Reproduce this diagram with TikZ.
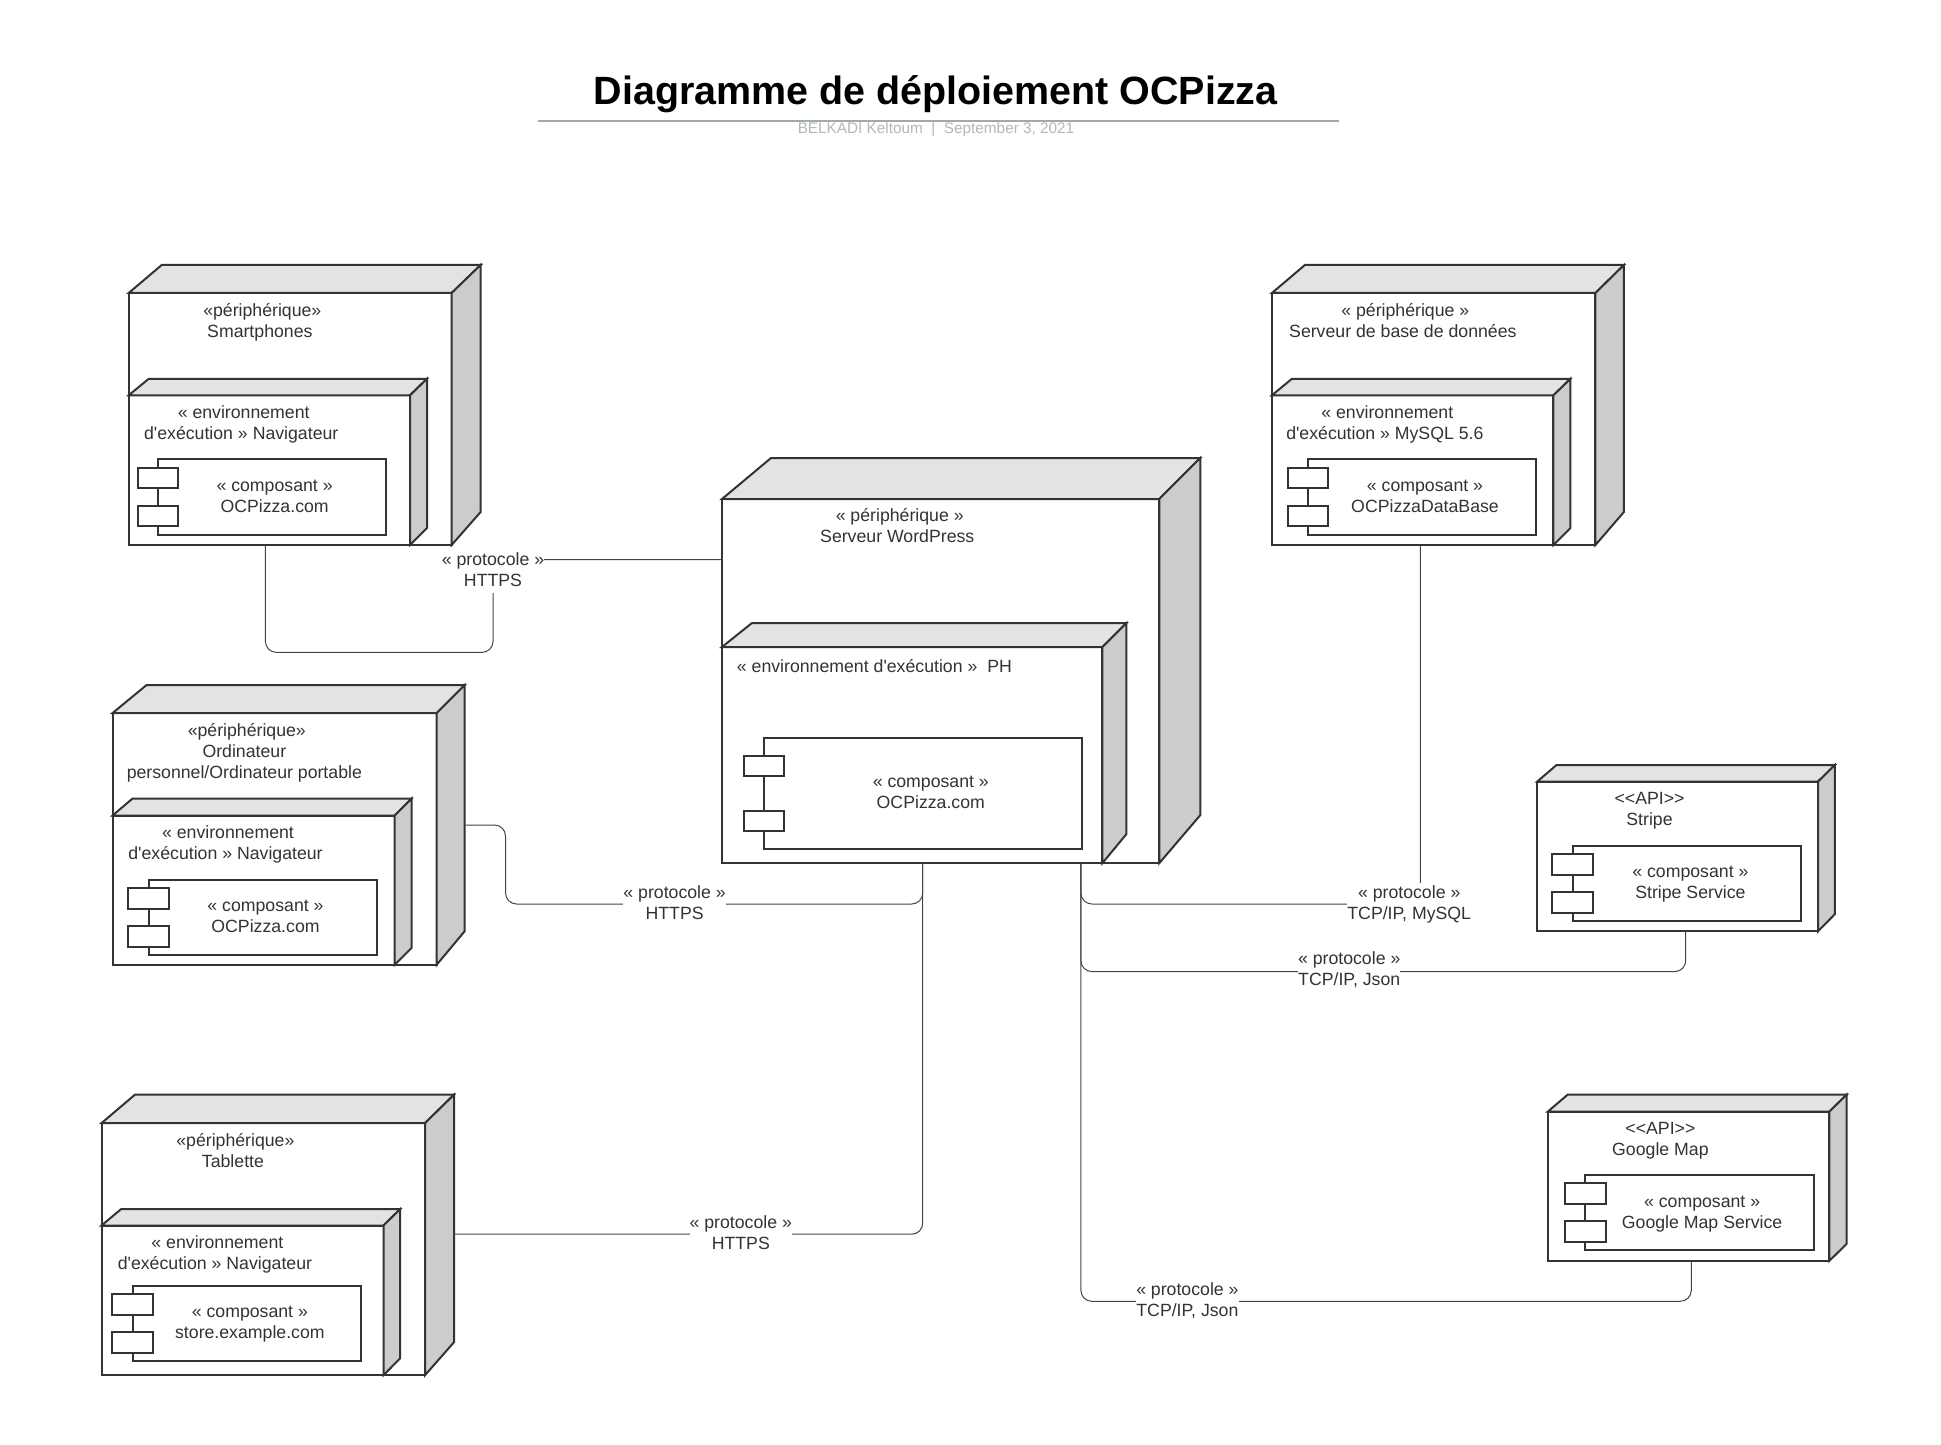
\documentclass[tikz,border=0pt]{standalone}
\usepackage{fontspec}
\usetikzlibrary{calc}
\newfontfamily\diagfont{Liberation Sans}
\definecolor{trait}{HTML}{333333}
\definecolor{fil}{HTML}{444444}
\definecolor{dessus}{HTML}{E3E3E3}
\definecolor{cote}{HTML}{CCCCCC}
\definecolor{filet}{HTML}{A3A8AB}
\definecolor{sous}{HTML}{AEB8BD}
% depth of a box: node, top left dx, right dx, top dy, bottom dy
\newcommand{\extrude}[5]{
\draw[face, fill=dessus] (#1.north west)--++(#2,-#4)--($(#1.north east)+(#3,-#4)$)--(#1.north east)--cycle;
\draw[face, fill=cote] (#1.north east)--++(#3,-#4)--($(#1.south east)+(#3,-#5)$)--(#1.south east)--cycle;
}
% the two small tabs of a component
\newcommand{\comptabs}[3]{
\node[tabbox] (#1a) at ([shift={(-20.3,#2)}]#1.north west) {};
\node[tabbox] (#1b) at ([shift={(-20.3,#3)}]#1.north west) {};
}
\newcommand{\lignes}[2]{\strut #1\\\strut #2}
% second line ends on a space
\newcommand{\vide}{\rule{2.46pt}{0pt}}
\newcommand{\lignesb}[2]{\strut #1\\\strut #2\vide}

\begin{document}
\begin{tikzpicture}[x=.5pt, y=-.5pt,
face/.style={draw=trait, line width=1pt, line join=miter},
box/.style 2 args={draw=trait, line width=1pt, fill=white, inner sep=0, outer sep=0, anchor=north west, minimum width=#1*.5pt, minimum height=#2*.5pt},
tabbox/.style={box={40.6}{20.3}},
compbox/.style={box={228.3}{75.4}},
texte/.style={align=center, inner sep=0, yshift=-1.25pt, text=trait, font=\diagfont\fontsize{8.85}{10.55}\selectfont},
proto/.style={texte, fill=white},
link/.style={draw=fil, line width=.5pt, rounded corners=5.5pt}]

\useasboundingbox (0,0) rectangle (1941,1444);

% TITLE
\node[inner sep=0] (titre) at (935.7,94.5) {\diagfont\fontsize{19.72}{22}\selectfont\bfseries Diagramme de déploiement OCPizza};
\coordinate (filetA) at (538.2,121.2);
\coordinate (filetB) at (1338.7,121.2);
\draw[filet, line width=1pt] (filetA)--(filetB);
\node[inner sep=0, text=sous] (auteur) at (936,129.6) {\diagfont\fontsize{7.66}{9}\selectfont BELKADI Keltoum~~|~~September 3, 2021};

%%%%%%%%% SMARTPHONES %%%%%%%%%%%%%
\node[box={322.9}{252}] (smart) at (128.7,293) {};
\extrude{smart}{33}{29}{28}{33}
\node[texte] (smarttxt) at (262.3,320.3) {\lignesb{«périphérique»}{Smartphones}};
\node[box={281.3}{149.7}] (smartenv) at (128.7,395.3) {};
\extrude{smartenv}{20}{17}{16.5}{17}
\node[texte] (smartenvtxt) at (243.7,422.4) {\lignesb{« environnement}{d'exécution » Navigateur}};
\node[compbox] (smartcomp) at (157.9,459.3) {};
\comptabs{smartcomp}{8.7}{46.7}
\node[texte] (smartcomptxt) at (274.6,495) {\lignes{« composant »}{OCPizza.com}};

%%%%%%%%% SERVEUR DE BASE DE DONNEES %%%%%%%%%%%%%
\node[box={323.5}{252}] (base) at (1271.9,293) {};
\extrude{base}{33}{28.5}{28}{33}
\node[texte] (basetxt) at (1405.3,320.3) {\lignesb{« périphérique »}{Serveur de base de données}};
\node[box={281.5}{149.7}] (baseenv) at (1271.9,395.3) {};
\extrude{baseenv}{20}{17}{16.5}{17}
\node[texte] (baseenvtxt) at (1387.3,422.4) {\lignesb{« environnement}{d'exécution » MySQL 5.6}};
\node[compbox] (basecomp) at (1307.8,459.3) {};
\comptabs{basecomp}{8.7}{46.7}
\node[texte] (basecomptxt) at (1425,495) {\lignes{« composant »}{OCPizzaDataBase}};

%%%%%%%%% SERVEUR WORDPRESS %%%%%%%%%%%%%
\node[box={437.3}{364.1}] (wordpress) at (722,499) {};
\extrude{wordpress}{49}{41}{41}{48}
\node[texte] (wordpresstxt) at (899.7,525.5) {\lignesb{« périphérique »}{Serveur WordPress}};
\node[box={380.4}{216.1}] (wordpressenv) at (722,647) {};
\extrude{wordpressenv}{30}{24}{24}{29}
\node[texte] (wordpressenvtxt) at (874.4,666) {\strut « environnement d'exécution »~~PH};
\node[box={318.3}{111}] (wordpresscomp) at (764,738) {};
\comptabs{wordpresscomp}{17.7}{72.7}
\node[texte] (wordpresscomptxt) at (930.8,791.5) {\lignes{« composant »}{OCPizza.com}};

%%%%%%%%% ORDINATEUR %%%%%%%%%%%%%
\node[box={324.1}{251.7}] (ordi) at (112.6,713) {};
\extrude{ordi}{34}{28}{28}{33.5}
\node[texte] (orditxt) at (246.8,750.5) {\strut «périphérique»\\\strut Ordinateur\vide\\\strut personnel/Ordinateur portable\vide};
\node[box={282.1}{149.2}] (ordienv) at (112.6,815.5) {};
\extrude{ordienv}{20}{17}{17}{17}
\node[texte] (ordienvtxt) at (228,842.5) {\lignesb{« environnement}{d'exécution » Navigateur}};
\node[compbox] (ordicomp) at (148.6,879.5) {};
\comptabs{ordicomp}{8.7}{46.7}
\node[texte] (ordicomptxt) at (265.5,915.2) {\lignes{« composant »}{OCPizza.com}};

%%%%%%%%% TABLETTE %%%%%%%%%%%%%
\node[box={323.5}{252.1}] (tablette) at (101.5,1123.1) {};
\extrude{tablette}{33.4}{29}{28.4}{33}
\node[texte] (tablettetxt) at (235.4,1150.2) {\lignesb{«périphérique»}{Tablette}};
\node[box={282}{149.7}] (tabletteenv) at (101.5,1225.5) {};
\extrude{tabletteenv}{19.7}{16.7}{16.5}{17}
\node[texte] (tabletteenvtxt) at (217.4,1252.1) {\lignesb{« environnement}{d'exécution » Navigateur}};
\node[compbox] (tablettecomp) at (132.6,1285.7) {};
\comptabs{tablettecomp}{8.7}{46.7}
\node[texte] (tablettecomptxt) at (249.9,1321) {\lignes{« composant »}{store.example.com}};

%%%%%%%%% STRIPE %%%%%%%%%%%%%
\node[box={280.8}{149.7}] (stripe) at (1537.3,781.5) {};
\extrude{stripe}{19.2}{16.7}{16.5}{17}
\node[texte] (stripetxt) at (1649.5,808.6) {\lignes{<<API>>}{Stripe}};
\node[compbox] (stripecomp) at (1572.7,845.6) {};
\comptabs{stripecomp}{8.7}{46.7}
\node[texte] (stripecomptxt) at (1690.4,881.1) {\lignes{« composant »}{Stripe Service}};

%%%%%%%%% GOOGLE MAP %%%%%%%%%%%%%
\node[box={281.5}{149.3}] (google) at (1547.8,1111.6) {};
\extrude{google}{19.8}{17.3}{16.9}{17}
\node[texte] (googletxt) at (1660.4,1138) {\lignes{<<API>>}{Google Map}};
\node[compbox] (googlecomp) at (1585.2,1174.6) {};
\comptabs{googlecomp}{8.7}{46.7}
\node[texte] (googlecomptxt) at (1702.1,1210.9) {\lignes{« composant »}{Google Map Service}};

%%%%%%%%% CONNECTORS %%%%%%%%%%%%%
\coordinate (hubA) at ([shift={(200.7,0)}]wordpress.south west);
\coordinate (hubB) at ([shift={(358.9,0)}]wordpress.south west);
\coordinate (wpin) at ([shift={(0,60.7)}]wordpress.north west);
\coordinate (ordiout) at ([shift={(28,112)}]ordi.north east);
\coordinate (tabletteout) at ([shift={(29,111.1)}]tablette.north east);
\draw[link] ([shift={(136.7,0)}]smart.south west)--++(0,107.4)-|(493,570)--(493,559.7)--(wpin);
\draw[link] (ordiout)--++(40.8,0)--++(0,79)-|(hubA);
\draw[link] (tabletteout)-|(hubA);
\draw[link] ([shift={(148.4,0)}]base.south west)--++(0,359)-|(hubB);
\draw[link] ([shift={(148.4,0)}]stripe.south west)--++(0,40.4)-|(hubB);
\draw[link] ([shift={(143.5,0)}]google.south west)--++(0,40.4)-|(hubB);
\node[proto] (protoA) at (493,568.9) {\lignes{« protocole »}{HTTPS}};
\node[proto] (protoB) at (674.6,901.9) {\lignes{« protocole »}{HTTPS}};
\node[proto] (protoC) at (740.8,1232) {\lignes{« protocole »}{HTTPS}};
\node[proto] (protoD) at (1409.2,901.9) {\lignes{« protocole »}{TCP/IP, MySQL}};
\node[proto] (protoE) at (1349.2,968.4) {\lignes{« protocole »}{TCP/IP, Json}};
\node[proto] (protoF) at (1187.4,1299.5) {\lignes{« protocole »}{TCP/IP, Json}};
\end{tikzpicture}
\end{document}
